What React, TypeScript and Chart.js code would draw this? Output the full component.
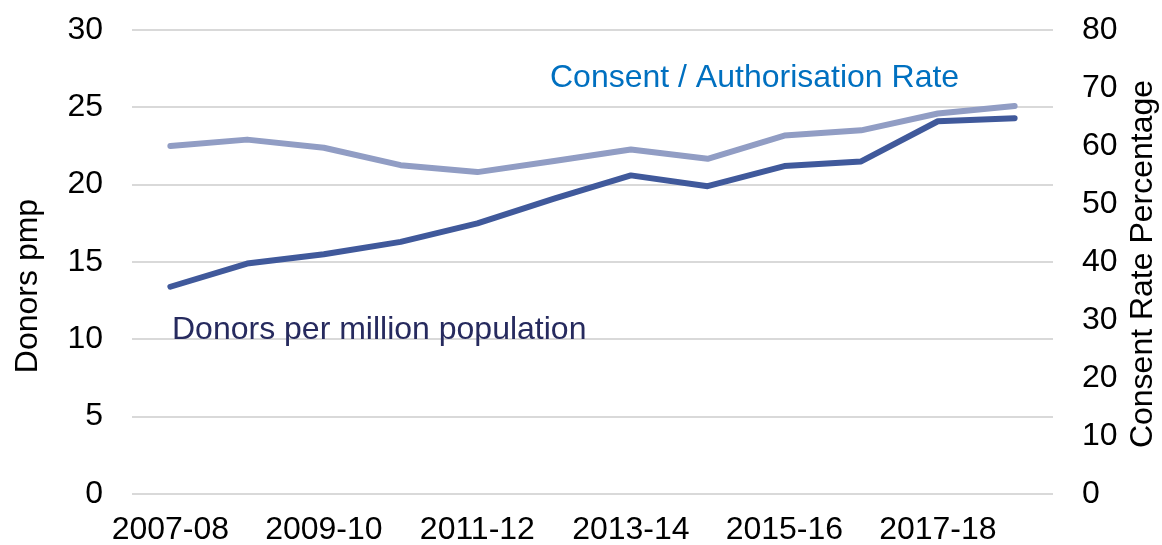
import React, { useEffect, useRef } from "react";
import { Chart, registerables } from "chart.js";

Chart.register(...registerables);

const categories = [
  "2007-08", "2008-09", "2009-10", "2010-11", "2011-12", "2012-13",
  "2013-14", "2014-15", "2015-16", "2016-17", "2017-18", "2018-19",
];
const donorsPmp = [13.4, 14.9, 15.5, 16.3, 17.5, 19.1, 20.6, 19.9, 21.2, 21.5, 24.1, 24.3];
const consentRate = [60.0, 61.1, 59.7, 56.7, 55.5, 57.4, 59.4, 57.8, 61.8, 62.7, 65.6, 66.9];

const leftTitle = "Donors pmp";
const rightTitle = "Consent Rate Percentage";
const consentLabel = "Consent / Authorisation Rate";
const donorsLabel = "Donors per million population";

const FONT = '"Liberation Sans", Arial, sans-serif';
const FS = 32;

const textPlugin = {
  id: "textPlugin",
  afterDraw(chart: any) {
    const ctx = chart.ctx;
    ctx.save();
    ctx.font = `${FS}px ${FONT}`;
    ctx.textBaseline = "middle";
    ctx.textAlign = "left";
    ctx.fillStyle = "#0070C0";
    ctx.fillText(consentLabel, 550, 78);
    ctx.fillStyle = "#262A5E";
    ctx.fillText(donorsLabel, 172, 330);

    ctx.fillStyle = "#000000";
    ctx.textAlign = "center";
    ctx.save();
    ctx.translate(28, 286);
    ctx.rotate(-Math.PI / 2);
    ctx.fillText(leftTitle, 0, 0);
    ctx.restore();
    ctx.save();
    ctx.translate(1143, 264);
    ctx.rotate(-Math.PI / 2);
    ctx.fillText(rightTitle, 0, 0);
    ctx.restore();
    ctx.restore();
  },
};

export default function App() {
  const ref = useRef<HTMLCanvasElement>(null);
  useEffect(() => {
    document.body.style.margin = "0";
    const chart = new Chart(ref.current!, {
      type: "line",
      data: {
        labels: categories,
        datasets: [
          {
            label: "Consent",
            data: consentRate,
            yAxisID: "y1",
            borderColor: "#919DC4",
            borderWidth: 6,
            pointRadius: 0,
            tension: 0,
            borderCapStyle: "round",
            borderJoinStyle: "round",
          },
          {
            label: "Donors",
            data: donorsPmp,
            yAxisID: "y",
            borderColor: "#40599B",
            borderWidth: 6,
            pointRadius: 0,
            tension: 0,
            borderCapStyle: "round",
            borderJoinStyle: "round",
          },
        ],
      },
      options: {
        responsive: false,
        animation: false,
        layout: { padding: { top: 30, left: 0, right: 0, bottom: 0 } },
        plugins: { legend: { display: false }, tooltip: { enabled: false } },
        scales: {
          x: {
            offset: true,
            grid: { display: false },
            border: { display: false },
            ticks: {
              color: "#000",
              font: { size: FS, family: FONT },
              padding: 9,
              maxRotation: 0,
              autoSkip: false,
              callback: (_v: any, i: number) => (i % 2 === 0 ? categories[i] : null),
            },
            afterFit: (s: any) => { s.height = 51; },
          },
          y: {
            position: "left",
            min: 0,
            max: 30,
            grid: { color: "#D9D9D9", lineWidth: 2, drawTicks: false },
            border: { display: false },
            ticks: {
              stepSize: 5,
              color: "#000",
              font: { size: FS, family: FONT },
              padding: 29,
            },
            afterFit: (s: any) => { s.width = 132; s.paddingTop = 0; s.paddingBottom = 0; },
          },
          y1: {
            position: "right",
            min: 0,
            max: 80,
            grid: { display: false, drawTicks: false },
            border: { display: false },
            ticks: {
              stepSize: 10,
              color: "#000",
              font: { size: FS, family: FONT },
              padding: 29,
            },
            afterFit: (s: any) => { s.width = 109; s.paddingTop = 0; s.paddingBottom = 0; },
          },
        },
      },
      plugins: [textPlugin],
    });
    return () => chart.destroy();
  }, []);
  return (
    <div style={{ width: 1162, height: 545 }}>
      <canvas ref={ref} width={1162} height={545} />
    </div>
  );
}
